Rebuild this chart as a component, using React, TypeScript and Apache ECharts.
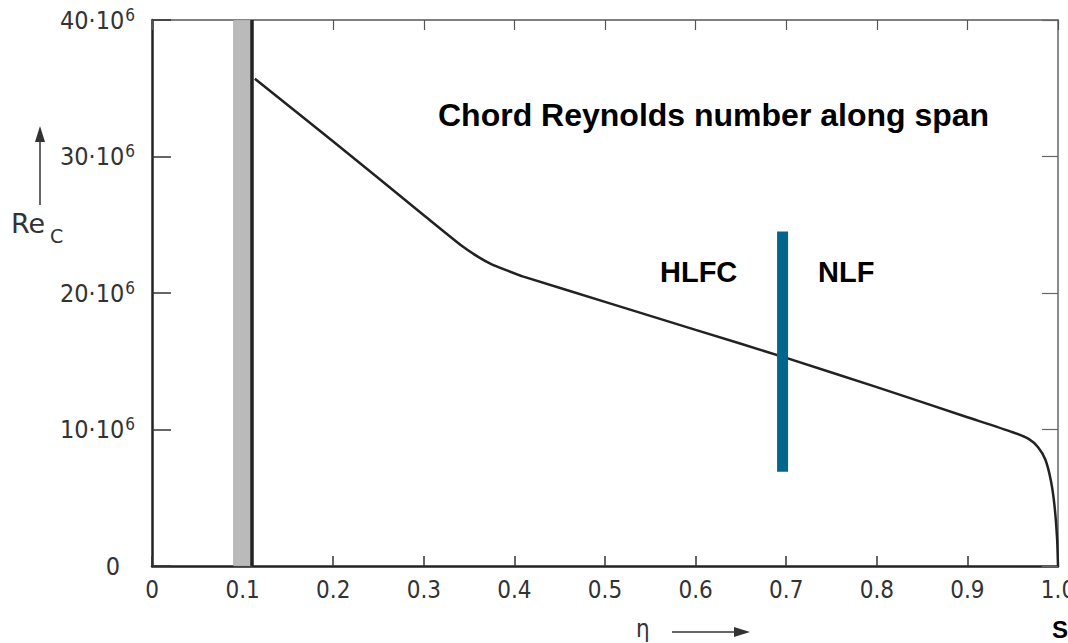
import React, { useEffect, useRef } from "react";
import * as echarts from "echarts";

const etaValues = [0.1135, 0.2, 0.3, 0.343, 0.36, 0.375, 0.39, 0.41, 0.5, 0.6, 0.7, 0.8, 0.9, 0.95, 0.968, 0.978, 0.986, 0.992, 0.996, 0.999, 1.0];
const reValues = [35.7e6, 31.1e6, 25.7e6, 23.4e6, 22.65e6, 22.1e6, 21.7e6, 21.2e6, 19.35e6, 17.3e6, 15.25e6, 13.1e6, 10.9e6, 9.8e6, 9.3e6, 8.7e6, 7.8e6, 6.3e6, 4.5e6, 2.0e6, 0];
const fuselageBand = [0.09, 0.111];
const rootLineEta = 0.1125;
const hlfcLimit = { eta: 0.696, from: 6.9e6, to: 24.5e6 };
const xTicks = [0, 0.1, 0.2, 0.3, 0.4, 0.5, 0.6, 0.7, 0.8, 0.9, 1.0];
const yTickMantissas = ["0", "10", "20", "30", "40"];

export default function App() {
  const ref = useRef<HTMLDivElement>(null);
  useEffect(() => {
    document.body.style.margin = "0";
    const chart = echarts.init(ref.current!, null, { renderer: "svg", width: 1068, height: 643 });
    const labelFont = "'DejaVu Sans Condensed', 'DejaVu Sans', sans-serif";
    const xFmt = (v: number) => {
      const i = xTicks.findIndex((t) => Math.abs(t - v) < 1e-6);
      if (i < 0) return "";
      return i === 0 ? "0" : xTicks[i].toFixed(1);
    };
    const yFmt = (v: number) => {
      const i = Math.round(v / 10e6);
      if (i === 0) return "{z|0}";
      return `{n|${yTickMantissas[i]}·10}{s|6}`;
    };
    chart.setOption({
      animation: false,
      backgroundColor: "#fff",
      grid: { left: 152, right: 10, top: 20, bottom: 77, containLabel: false, outerBoundsMode: "none" },
      xAxis: [
        {
          type: "value", min: 0, max: 1, interval: 0.1, position: "bottom",
          axisLine: { show: true, onZero: false, lineStyle: { color: "#222", width: 2.5 } },
          axisTick: { show: true, inside: true, length: 10, lineStyle: { color: "#333", width: 1.5 } },
          axisLabel: { formatter: xFmt, fontSize: 24, color: "#333", margin: 12, fontFamily: labelFont },
          splitLine: { show: false },
        },
        {
          type: "value", min: 0, max: 1, interval: 0.1, position: "top",
          axisLine: { show: true, onZero: false, lineStyle: { color: "#555", width: 1.5 } },
          axisTick: { show: true, inside: true, length: 10, lineStyle: { color: "#555", width: 1.2 } },
          axisLabel: { show: false },
          splitLine: { show: false },
        },
      ],
      yAxis: [
        {
          type: "value", min: 0, max: 40e6, interval: 10e6, position: "left",
          axisLine: { show: true, onZero: false, lineStyle: { color: "#222", width: 2.5 } },
          axisTick: { show: true, inside: true, length: 19, lineStyle: { color: "#333", width: 1.5 } },
          axisLabel: {
            formatter: yFmt, color: "#333", margin: 17, fontFamily: labelFont,
            rich: {
              n: { fontSize: 25, lineHeight: 28, color: "#333", fontFamily: labelFont },
              s: { fontSize: 17, lineHeight: 28, verticalAlign: "top", color: "#333", fontFamily: labelFont, padding: [0, 0, 0, 1] },
              z: { fontSize: 25, lineHeight: 28, color: "#333", fontFamily: labelFont, padding: [0, 15, 0, 0] },
            },
          },
          splitLine: { show: false },
        },
        {
          type: "value", min: 0, max: 40e6, interval: 10e6, position: "right",
          axisLine: { show: true, onZero: false, lineStyle: { color: "#666", width: 1.5 } },
          axisTick: { show: true, inside: true, length: 16, lineStyle: { color: "#666", width: 1.2 } },
          axisLabel: { show: false },
          splitLine: { show: false },
        },
      ],
      series: [
        {
          type: "line",
          data: etaValues.map((e, i) => [e, reValues[i]]),
          smooth: 0.2,
          showSymbol: false,
          lineStyle: { color: "#222", width: 2.5 },
          markArea: {
            silent: true,
            itemStyle: { color: "#bababa", borderColor: "#999", borderWidth: 0.5 },
            data: [[{ xAxis: fuselageBand[0] }, { xAxis: fuselageBand[1] }]],
          },
          markLine: {
            silent: true,
            symbol: "none",
            label: { show: false },
            lineStyle: { color: "#222", width: 3.5, type: "solid" },
            data: [{ xAxis: rootLineEta }],
          },
          z: 3,
        },
        {
          type: "line",
          data: [[hlfcLimit.eta, hlfcLimit.from], [hlfcLimit.eta, hlfcLimit.to]],
          showSymbol: false,
          lineStyle: { color: "#02658c", width: 11, cap: "butt" },
          z: 4,
        },
      ],
      graphic: [
        { type: "text", left: 438, top: 99, style: { text: "Chord Reynolds number along span", font: "bold 32px 'Liberation Sans', Arial, sans-serif", fill: "#000" } },
        { type: "text", left: 660, top: 257, style: { text: "HLFC", font: "bold 29px 'Liberation Sans', Arial, sans-serif", fill: "#000" } },
        { type: "text", left: 818, top: 257, style: { text: "NLF", font: "bold 29px 'Liberation Sans', Arial, sans-serif", fill: "#000" } },
        { type: "text", left: 11, top: 210, style: { text: "Re", font: "27px 'DejaVu Sans', sans-serif", fill: "#333" } },
        { type: "text", left: 50, top: 226, style: { text: "C", font: "19px 'DejaVu Sans', sans-serif", fill: "#333" } },
        { type: "line", shape: { x1: 40, y1: 205, x2: 40, y2: 138 }, style: { stroke: "#333", lineWidth: 1.5 } },
        { type: "polygon", shape: { points: [[35, 142], [45, 142], [40, 126]] }, style: { fill: "#333" } },
        { type: "text", left: 636, top: 617, style: { text: "η", font: `24px ${labelFont}`, fill: "#333" } },
        { type: "line", shape: { x1: 672, y1: 632, x2: 738, y2: 632 }, style: { stroke: "#333", lineWidth: 1.5 } },
        { type: "polygon", shape: { points: [[734, 627], [734, 637], [750, 632]] }, style: { fill: "#333" } },
        { type: "text", left: 1052, top: 617, style: { text: "S", font: "bold 24px 'Liberation Sans', Arial, sans-serif", fill: "#000" } },
      ],
    });
    return () => chart.dispose();
  }, []);
  return <div ref={ref} style={{ position: "fixed", left: 0, top: 0, width: 1068, height: 643 }} />;
}
